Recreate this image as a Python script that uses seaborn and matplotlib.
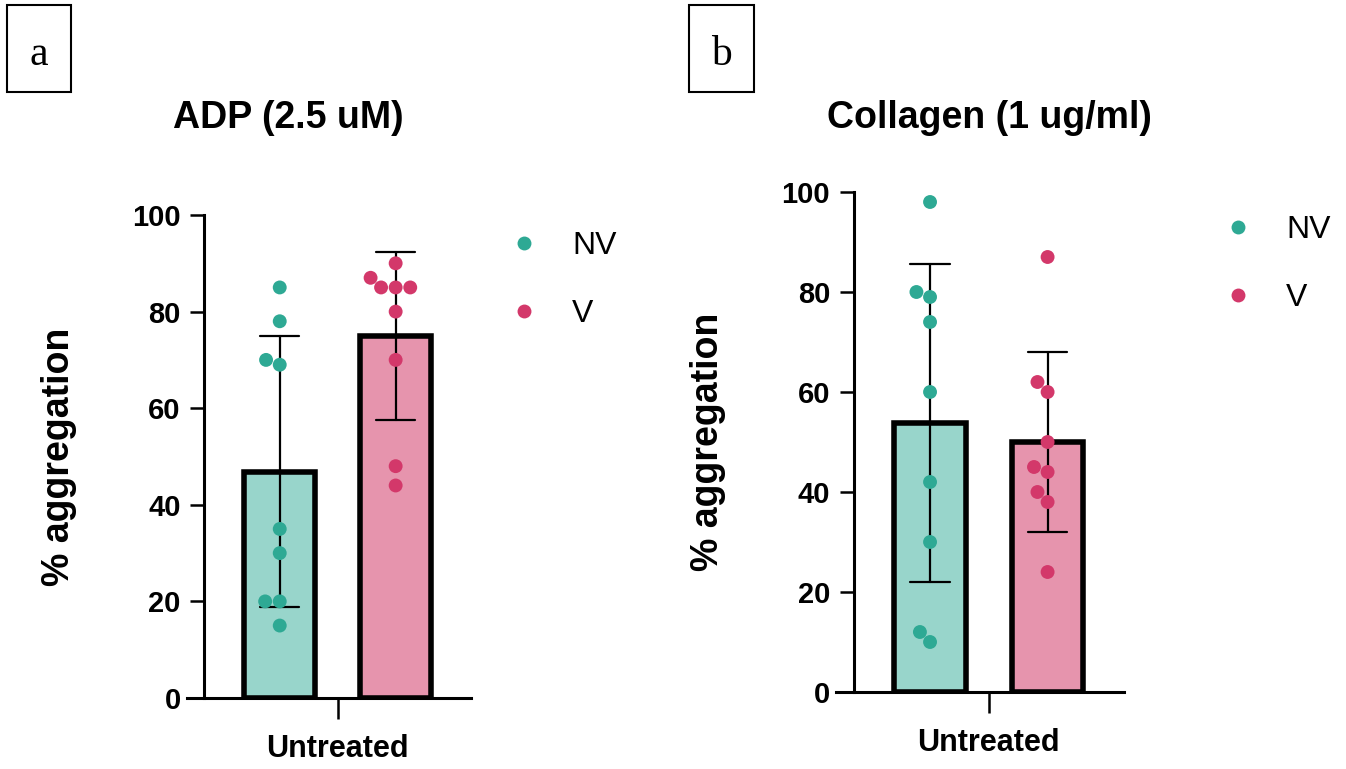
import pandas as pd
import matplotlib
matplotlib.use("Agg")
import matplotlib.pyplot as plt
from matplotlib.patches import Rectangle
import seaborn as sns

sns.set_theme(style="ticks", rc={"text.color": "black", "axes.labelcolor": "black",
                                 "axes.edgecolor": "black", "xtick.color": "black",
                                 "ytick.color": "black"})
plt.rcParams["font.family"] = ["Liberation Sans", "DejaVu Sans"]

# values (9 donors per group)
GROUPS = ["NV", "V"]
TREATMENT = "Untreated"
adp_nv = [85, 78, 70, 69, 35, 30, 20, 20, 15]
adp_v = [90, 87, 85, 85, 85, 80, 70, 48, 44]
col_nv = [98, 80, 79, 74, 60, 42, 30, 12, 10]
col_v = [87, 62, 60, 50, 45, 44, 40, 38, 24]
Y_TICKS = [0, 20, 40, 60, 80, 100]

BAR_COLORS = {"NV": "#98D5CB", "V": "#E694AD"}
DOT_COLORS = {"NV": "#2EA994", "V": "#D3386A"}

W, H = 1346, 769


def make_df(nv, v):
    rows = [(TREATMENT, "NV", x) for x in nv] + [(TREATMENT, "V", x) for x in v]
    return pd.DataFrame(rows, columns=["treatment", "group", "aggregation"])


def draw_panel(ax, df, legend_anchor):
    sns.barplot(data=df, x="treatment", y="aggregation", hue="group", hue_order=GROUPS,
                palette=BAR_COLORS, saturation=1, errorbar="sd", capsize=0.27, gap=0.39,
                edgecolor="black", linewidth=4.0, legend=False, ax=ax,
                err_kws={"color": "black", "linewidth": 1.6})
    sns.swarmplot(data=df, x="treatment", y="aggregation", hue="group", hue_order=GROUPS,
                  palette=DOT_COLORS, dodge=True, size=10, ax=ax, clip_on=False, zorder=4)

    ax.set_xlim(-0.52, 0.46)
    ax.set_ylim(0, 100)
    ax.set_yticks(Y_TICKS)
    ax.spines["left"].set_position(("data", -0.46))
    for side in ["top", "right"]:
        ax.spines[side].set_visible(False)
    for side in ["left", "bottom"]:
        ax.spines[side].set_linewidth(2.2)
    ax.tick_params(axis="y", length=10, width=1.8, pad=7, labelsize=21)
    ax.tick_params(axis="x", length=15, width=1.8, pad=11, labelsize=22)
    for lab in ax.get_xticklabels() + ax.get_yticklabels():
        lab.set_fontweight("bold")
    ax.set_xlabel("")
    ax.set_ylabel("% aggregation", fontsize=27, fontweight="bold", labelpad=40)

    handles, labels = ax.get_legend_handles_labels()
    ax.legend(handles, labels, frameon=False, loc="upper left",
              bbox_to_anchor=legend_anchor, bbox_transform=ax.figure.transFigure,
              fontsize=23, handlelength=1.0, handletextpad=1.0, labelspacing=1.2,
              borderpad=0, borderaxespad=0, markerscale=1.0)


fig = plt.figure(figsize=(W / 100, H / 100), dpi=100)
ax_a = fig.add_axes([187 / W, 1 - 698 / H, 284 / W, 483 / H])
ax_b = fig.add_axes([836 / W, 1 - 692 / H, 288 / W, 500 / H])

draw_panel(ax_a, make_df(adp_nv, adp_v), (508 / W, 1 - 231 / H))
draw_panel(ax_b, make_df(col_nv, col_v), (1222 / W, 1 - 215 / H))

fig.text(288 / W, 1 - 118 / H, "ADP (2.5 uM)", ha="center", va="center",
         fontsize=27, fontweight="bold")
fig.text(989 / W, 1 - 118 / H, "Collagen (1 ug/ml)", ha="center", va="center",
         fontsize=27, fontweight="bold")

# boxed panel letters
for x0, x1, letter in [(7, 71, "a"), (689, 754, "b")]:
    fig.add_artist(Rectangle((x0 / W, 1 - 92 / H), (x1 - x0) / W, 87 / H,
                             transform=fig.transFigure, fill=False,
                             edgecolor="black", linewidth=1.5))
    fig.text((x0 + x1) / 2 / W, 1 - 65 / H, letter, ha="center", va="baseline",
             fontsize=30, family="Liberation Serif")

fig.savefig("out.png", dpi=100)
